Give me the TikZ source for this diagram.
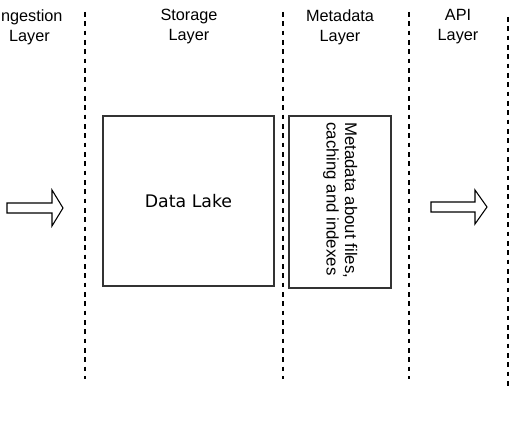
\documentclass[tikz,border=0pt]{standalone}
\usepackage{fontspec}
\setmainfont{Liberation Sans}
\newfontfamily\dejavu{DejaVu Sans}
\begin{document}
\begin{tikzpicture}[x=0.75pt,y=-0.75pt,
  lbl/.style={align=center,inner sep=0pt,font=\fontsize{12.2}{15}\selectfont},
  sep/.style={line width=1.3pt,dash pattern=on 3.5pt off 3.5pt},
  box/.style={draw=black!80,line width=0.8pt,inner sep=0pt},
  fatarrow/.style={draw=black,line width=0.8pt,fill=white}]
\useasboundingbox (0,0) rectangle (530,442);
% layer labels
\node[lbl] (ing) at (29.5,27) {Ingestion\\Layer};
\node[lbl] (sto) at (189,27) {Storage\\Layer};
\node[lbl] (met) at (340,27) {Metadata\\Layer};
\node[lbl] (api) at (458,27) {API\\Layer};
% separators
\coordinate (s1t) at (85,12);  \coordinate (s1b) at (85,379);
\coordinate (s2t) at (283,12); \coordinate (s2b) at (283,379);
\coordinate (s3t) at (409,12); \coordinate (s3b) at (409,379);
\coordinate (s4t) at (508,17); \coordinate (s4b) at (508,386);
\draw[sep] (s1t) -- (s1b);
\draw[sep] (s2t) -- (s2b);
\draw[sep] (s3t) -- (s3b);
\draw[sep] (s4t) -- (s4b);
% boxes
\node[box,minimum width=171*0.75pt,minimum height=170*0.75pt] (lake) at (188.5,201) {};
\node[font=\dejavu\fontsize{13}{15}\selectfont] (laketext) at (lake.center) {Data Lake};
\node[box,minimum width=102*0.75pt,minimum height=172*0.75pt] (meta) at (340,202) {};
\node[rotate=-90,anchor=north west,align=left,inner sep=0pt,
      font=\fontsize{12.6}{13.8}\selectfont] (metatext) at (357.5,122)
      {Metadata about files,\\caching and indexes};
% arrows
\draw[fatarrow] (7,203) -- (52,203) -- (52,190) -- (63,208) -- (52,226) -- (52,213) -- (7,213) -- cycle;
\draw[fatarrow] (431,202) -- (475,202) -- (475,190) -- (487,207) -- (475,224) -- (475,212) -- (431,212) -- cycle;
\end{tikzpicture}
\end{document}
